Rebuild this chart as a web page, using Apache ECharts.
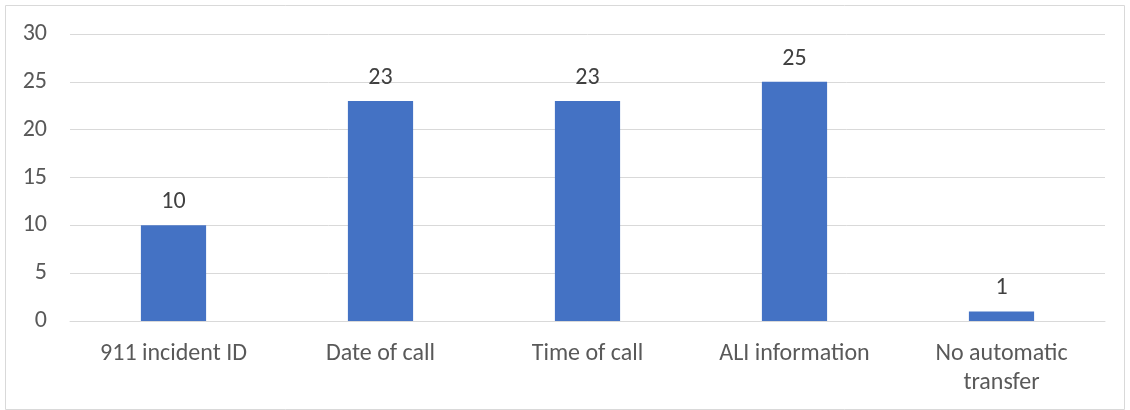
<!DOCTYPE html>
<html><head><meta charset="utf-8">
<script src="https://cdn.jsdelivr.net/npm/echarts@6/dist/echarts.min.js"></script>
<style>html,body{margin:0;padding:0;background:#fff}#c{width:1130px;height:410px}</style>
</head><body><div id="c"></div>
<script>
const categories = ['911 incident ID', 'Date of call', 'Time of call', 'ALI information', 'No automatic transfer'];
const values = [10, 23, 23, 25, 1];
const yTicks = { min: 0, max: 30, interval: 5 };

const chart = echarts.init(document.getElementById('c'));
const font = 'Carlito, Calibri, Lato, "Noto Sans", sans-serif';
chart.setOption({
  animation: false,
  graphic: [{ type: 'rect', shape: { x: 5.5, y: 5.5, width: 1119, height: 404 }, style: { fill: 'none', stroke: '#d9d9d9', lineWidth: 1 } }],
  grid: { left: 70, right: 25, top: 34, bottom: 89 },
  xAxis: {
    type: 'category', data: categories,
    axisLine: { lineStyle: { color: '#d9d9d9', width: 1 } },
    axisTick: { show: false },
    axisLabel: {
      color: '#595959', fontSize: 24, fontFamily: font, margin: 18, lineHeight: 29, interval: 0,
      formatter: v => v === 'No automatic transfer' ? 'No automatic\ntransfer' : v
    }
  },
  yAxis: {
    type: 'value', min: yTicks.min, max: yTicks.max, interval: yTicks.interval,
    axisLine: { show: false }, axisTick: { show: false },
    splitLine: { lineStyle: { color: '#d9d9d9', width: 1 } },
    axisLabel: { color: '#595959', fontSize: 24, fontFamily: font, margin: 23 }
  },
  series: [{
    type: 'bar', data: values, barWidth: '31.5%',
    itemStyle: { color: '#4472c4' },
    label: { show: true, position: 'top', distance: 11, color: '#404040', fontSize: 24, fontFamily: font }
  }]
});
</script></body></html>
